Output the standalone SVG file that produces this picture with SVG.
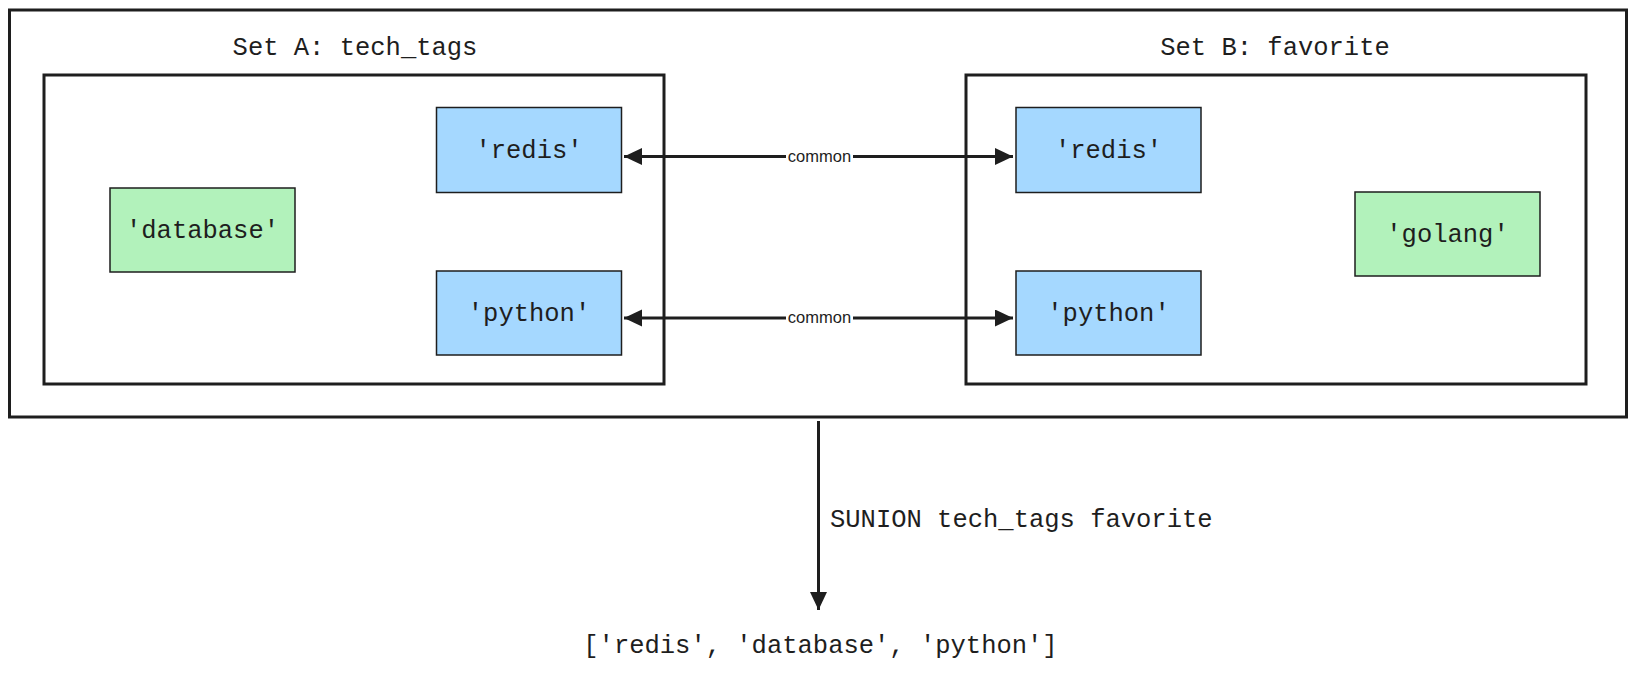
<svg xmlns="http://www.w3.org/2000/svg" width="1636" height="675" viewBox="0 0 1636 675">
<style>
.frame{fill:#ffffff;stroke:#1e1e1e;stroke-width:3}
.blue{fill:#a5d8ff;stroke:#1e1e1e;stroke-width:1.5}
.green{fill:#b2f2bb;stroke:#1e1e1e;stroke-width:1.5}
.t{font-family:"Liberation Mono","DejaVu Sans Mono",monospace;font-size:25.5px;fill:#1e1e1e;text-anchor:middle}
.ts{font-family:"Liberation Mono","DejaVu Sans Mono",monospace;font-size:25.5px;fill:#1e1e1e}
.edge{stroke:#1e1e1e;stroke-width:3;fill:none}
.lbl{font-family:"Liberation Sans",Arial,sans-serif;font-size:16.5px;fill:#1e1e1e;text-anchor:middle}
</style>
<defs>
<marker id="ah" markerUnits="userSpaceOnUse" markerWidth="20" markerHeight="18" refX="18" refY="8.5" orient="auto-start-reverse">
<path d="M0,0 L18,8.5 L0,17 z" fill="#1e1e1e"/>
</marker>
</defs>
<rect width="1636" height="675" fill="#ffffff"/>
<g id="outer">
<rect class="frame" x="9.5" y="10" width="1617" height="407"/>
</g>
<g id="setA">
<rect class="frame" x="44" y="75" width="620" height="309"/>
<text class="t" x="355" y="55">Set A: tech_tags</text>
</g>
<g id="setB">
<rect class="frame" x="966" y="75" width="620" height="309"/>
<text class="t" x="1275" y="55">Set B: favorite</text>
</g>
<g id="a_redis">
<rect class="blue" x="436.5" y="107.5" width="185" height="85"/>
<text class="t" x="529" y="158">'redis'</text>
</g>
<g id="a_database">
<rect class="green" x="110" y="188" width="185" height="84"/>
<text class="t" x="202.5" y="238">'database'</text>
</g>
<g id="a_python">
<rect class="blue" x="436.5" y="271" width="185" height="84"/>
<text class="t" x="529" y="321">'python'</text>
</g>
<g id="b_redis">
<rect class="blue" x="1016" y="107.5" width="185" height="85"/>
<text class="t" x="1108.5" y="158">'redis'</text>
</g>
<g id="b_golang">
<rect class="green" x="1355" y="192" width="185" height="84"/>
<text class="t" x="1447.5" y="242">'golang'</text>
</g>
<g id="b_python">
<rect class="blue" x="1016" y="271" width="185" height="84"/>
<text class="t" x="1108.5" y="321">'python'</text>
</g>
<g id="result">
<text class="t" x="820.5" y="653">['redis', 'database', 'python']</text>
</g>
<g id="connectors">
<line class="edge" x1="624" y1="156.5" x2="1013" y2="156.5" marker-start="url(#ah)" marker-end="url(#ah)"/>
<rect x="786" y="147" width="67" height="19" fill="#ffffff"/>
<text class="lbl" x="819.5" y="161.5">common</text>
<line class="edge" x1="624" y1="318" x2="1013" y2="318" marker-start="url(#ah)" marker-end="url(#ah)"/>
<rect x="786" y="308.5" width="67" height="19" fill="#ffffff"/>
<text class="lbl" x="819.5" y="323">common</text>
<line class="edge" x1="818.5" y1="421" x2="818.5" y2="610" marker-end="url(#ah)"/>
<text class="ts" x="830" y="527">SUNION tech_tags favorite</text>
</g>
</svg>
